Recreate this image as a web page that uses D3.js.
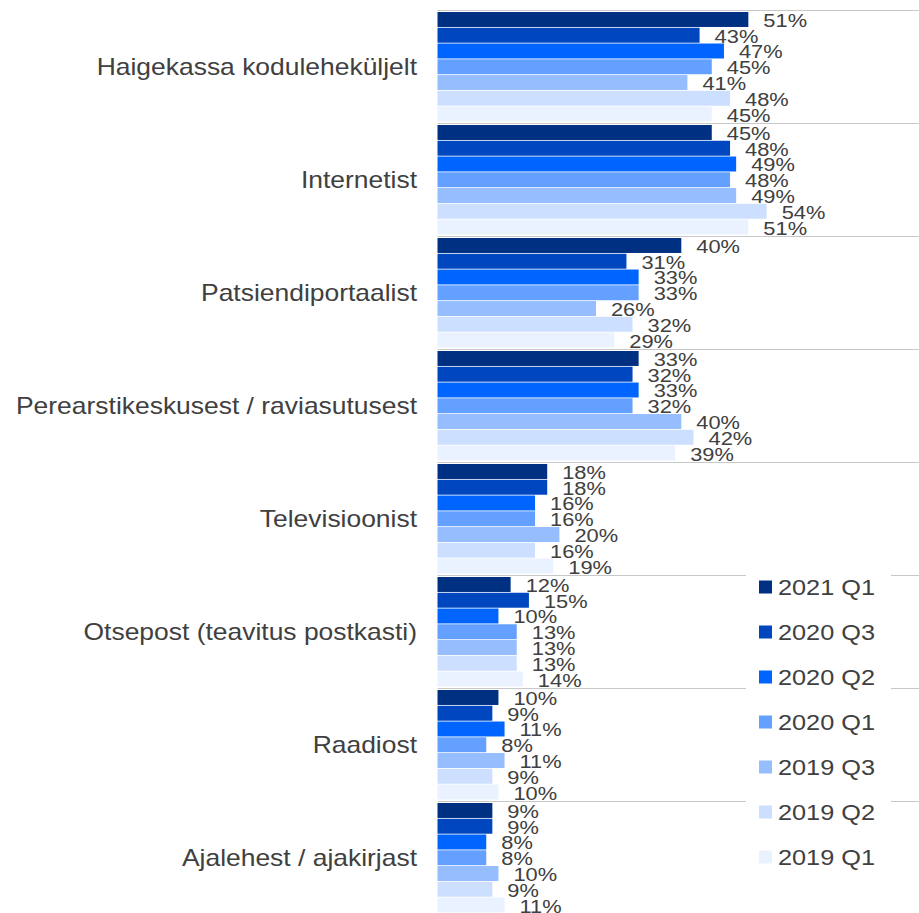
<!DOCTYPE html>
<html>
<head>
<meta charset="utf-8">
<script src="https://cdn.jsdelivr.net/npm/d3@7"></script>
<style>
  body { margin: 0; background: #fff; }
  svg { display: block; font-family: "Liberation Sans", Arial, sans-serif; }
</style>
</head>
<body>
<svg id="chart" width="919" height="913"></svg>
<script>
// categories (top to bottom) and series (legend order)
const categories = [
  'Haigekassa koduleheküljelt',
  'Internetist',
  'Patsiendiportaalist',
  'Perearstikeskusest / raviasutusest',
  'Televisioonist',
  'Otsepost (teavitus postkasti)',
  'Raadiost',
  'Ajalehest / ajakirjast'
];
const series = ['2021 Q1', '2020 Q3', '2020 Q2', '2020 Q1', '2019 Q3', '2019 Q2', '2019 Q1'];
const colors = ['#003082', '#0046be', '#0064ff', '#64a0ff', '#96beff', '#cddfff', '#eaf2ff'];

// values in %, one array per series, same order as categories
const v2021Q1 = [51, 45, 40, 33, 18, 12, 10, 9];
const v2020Q3 = [43, 48, 31, 32, 18, 15, 9, 9];
const v2020Q2 = [47, 49, 33, 33, 16, 10, 11, 8];
const v2020Q1 = [45, 48, 33, 32, 16, 13, 8, 8];
const v2019Q3 = [41, 49, 26, 40, 20, 13, 11, 10];
const v2019Q2 = [48, 54, 32, 42, 16, 13, 9, 9];
const v2019Q1 = [45, 51, 29, 39, 19, 14, 10, 11];
const seriesValues = [v2021Q1, v2020Q3, v2020Q2, v2020Q1, v2019Q3, v2019Q2, v2019Q1];

const svg = d3.select('#chart');
const textColor = '#404040';
const stretch = 1.15; // text in the reference is slightly wide

const x = d3.scaleLinear().domain([0, 79]).range([437.5, 919]);
const y = d3.scaleBand().domain(categories).range([10, 914]);
const yInner = d3.scaleBand().domain(series).range([2, y.bandwidth() - 1.5]).paddingInner(0.05);

// gridlines at group boundaries
svg.append('g')
  .selectAll('line')
  .data(categories)
  .join('line')
  .attr('x1', x(0)).attr('x2', 919)
  .attr('y1', d => Math.round(y(d)) + 0.5).attr('y2', d => Math.round(y(d)) + 0.5)
  .attr('stroke', '#c8c8c8').attr('stroke-width', 1.2);

// flatten data
const rows = [];
categories.forEach((c, ci) => {
  series.forEach((s, si) => rows.push({ cat: c, ser: s, si, value: seriesValues[si][ci] }));
});

// bars
svg.append('g')
  .selectAll('rect')
  .data(rows)
  .join('rect')
  .attr('x', x(0))
  .attr('y', d => y(d.cat) + yInner(d.ser))
  .attr('width', d => x(d.value) - x(0))
  .attr('height', yInner.bandwidth())
  .attr('fill', d => colors[d.si]);

// value labels
svg.append('g')
  .selectAll('text')
  .data(rows)
  .join('text')
  .attr('transform', d => `translate(${x(d.value) + 15},${y(d.cat) + yInner(d.ser) + yInner.bandwidth() / 2 + 7.5}) scale(${stretch},1)`)
  .attr('font-size', 19)
  .attr('fill', textColor)
  .text(d => d.value + '%');

// category labels
svg.append('g')
  .selectAll('text')
  .data(categories)
  .join('text')
  .attr('transform', d => `translate(417,${y(d) + y.bandwidth() / 2 + 8.5}) scale(${stretch},1)`)
  .attr('text-anchor', 'end')
  .attr('font-size', 23)
  .attr('fill', textColor)
  .text(d => d);

// legend
const legend = svg.append('g');
legend.append('rect')
  .attr('x', 746).attr('y', 566).attr('width', 145).attr('height', 312)
  .attr('fill', '#fff');
const item = legend.selectAll('g.item')
  .data(series)
  .join('g')
  .attr('class', 'item')
  .attr('transform', (d, i) => `translate(0,${587 + i * 45})`);
item.append('rect')
  .attr('x', 759).attr('y', -6.5).attr('width', 13).attr('height', 13)
  .attr('fill', (d, i) => colors[i]);
item.append('text')
  .attr('transform', `translate(778,8) scale(${stretch},1)`)
  .attr('font-size', 22)
  .attr('fill', textColor)
  .text(d => d);
</script>
</body>
</html>
